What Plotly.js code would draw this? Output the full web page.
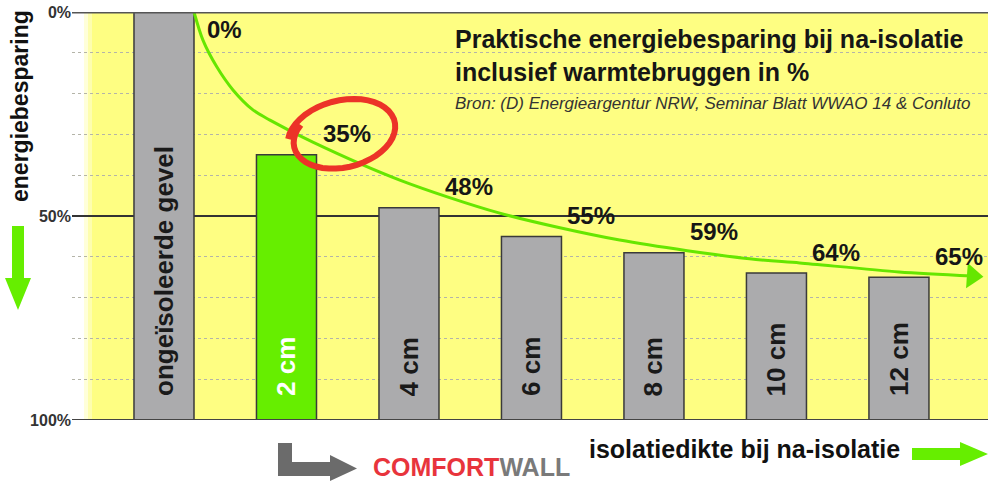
<!DOCTYPE html>
<html><head><meta charset="utf-8">
<script src="https://cdn.plot.ly/plotly-3.0.1.min.js"></script>
<style>html,body{margin:0;padding:0;background:#fff}#chart{width:988px;height:481px}</style>
</head><body><div id="chart"></div>
<script>
// ---- data ----
const categories = ['ongeïsoleerde gevel', '2 cm', '4 cm', '6 cm', '8 cm', '10 cm', '12 cm'];
const savings = [0, 35, 48, 55, 59, 64, 65];
const barColors = ['#ababad', '#66ee00', '#ababad', '#ababad', '#ababad', '#ababad', '#ababad'];
const barTextColors = ['#1a1a1a', '#ffffff', '#1a1a1a', '#1a1a1a', '#1a1a1a', '#1a1a1a', '#1a1a1a'];
const curveX = [0.245, 0.318, 0.432, 0.563, 0.726, 0.865, 1.215, 1.925, 2.741, 3.72, 4.78, 5.19, 6.0, 6.6];
const curveY = [0, 6.9, 13.5, 19.1, 24.0, 26.5, 31.9, 41.2, 49.3, 55.9, 60.5, 61.5, 63.7, 64.7];
const gridVals = [10, 20, 30, 40, 60, 70, 80, 90];
const yTicks = [0, 50, 100];
const yTickText = ['0%', '50%', '100%'];
const titleLines = ['Praktische energiebesparing bij na-isolatie', 'inclusief warmtebruggen in %'];
const sourceText = 'Bron: (D) Energieargentur NRW, Seminar Blatt WWAO 14 & Conluto';
const yTitle = 'energiebesparing';
const xTitle = 'isolatiedikte bij na-isolatie';

// ---- layout helpers ----
const W = 988, H = 481, ML = 72, MR = 0, MT = 12, MB = 61;
const PW = W - ML - MR, PH = H - MT - MB;
const px2p = px => (px - ML) / PW;
const py2p = py => (H - MB - py) / PH;
const polyPath = pts => 'M ' + pts.map(p => px2p(p[0]).toFixed(5) + ',' + py2p(p[1]).toFixed(5)).join(' L ') + ' Z';
const FONT = 'Liberation Sans, Arial, Helvetica, sans-serif';
const idx = categories.map((c, i) => i);

const traces = [
  {
    type: 'bar', x: idx, y: savings.map(v => 100 - v), base: savings,
    width: 0.49, marker: {color: barColors, line: {color: '#3a3a3a', width: 1.5}},
    hoverinfo: 'skip', showlegend: false
  },
  {
    type: 'scatter', mode: 'lines', x: curveX, y: curveY,
    line: {color: '#66e600', width: 3, shape: 'spline', smoothing: 0.8},
    hoverinfo: 'skip', showlegend: false, cliponaxis: false
  },
  {
    type: 'scatter', mode: 'markers', x: [curveX[curveX.length - 1]], y: [curveY[curveY.length - 1]],
    marker: {symbol: 'triangle-right', size: 22, color: '#66e600', angle: 4, line: {width: 0}},
    hoverinfo: 'skip', showlegend: false, cliponaxis: false
  },
  // invisible trace on the label axis so it is drawn
  {
    type: 'scatter', mode: 'markers', x: [0], y: [0], yaxis: 'y2', marker: {opacity: 0}, hoverinfo: 'skip', showlegend: false
  }
];

// red hand-drawn ellipse (spiral slightly) around the 2 cm label
function ellipsePath() {
  const a = 54, b = 34, rot = 14 * Math.PI / 180;
  const pts = [];
  const t0 = 165, t1 = 165 - 385;
  for (let t = t0; t >= t1; t -= 8) {
    const f = (t0 - t) / (t0 - t1);
    const s = 1.04 - 0.12 * f;
    const r = t * Math.PI / 180;
    const ex = a * s * Math.cos(r), ey = b * s * Math.sin(r);
    const x = ex * Math.cos(rot) - ey * Math.sin(rot);
    const y = ex * Math.sin(rot) + ey * Math.cos(rot);
    pts.push(x.toFixed(1) + ',' + y.toFixed(1));
  }
  return 'M ' + pts.join(' L ');
}

const shapes = [
  // yellow background with soft left edge
  {type: 'rect', xref: 'paper', yref: 'y', x0: px2p(84), x1: px2p(88), y0: 0, y1: 100, fillcolor: 'rgba(254,254,130,0.3)', line: {width: 0}, layer: 'below'},
  {type: 'rect', xref: 'paper', yref: 'y', x0: px2p(88), x1: px2p(92), y0: 0, y1: 100, fillcolor: 'rgba(254,254,130,0.65)', line: {width: 0}, layer: 'below'},
  {type: 'rect', xref: 'paper', yref: 'y', x0: px2p(92), x1: 1, y0: 0, y1: 100, fillcolor: '#fefe82', line: {width: 0}, layer: 'below'},
  // solid reference lines
  {type: 'line', xref: 'paper', yref: 'y', x0: 0, x1: 1, y0: 50, y1: 50, line: {color: '#333', width: 2}, layer: 'below'},
  {type: 'line', xref: 'paper', yref: 'y', x0: 0, x1: 1, y0: 0, y1: 0, line: {color: '#555', width: 3}, layer: 'above'},
  {type: 'line', xref: 'paper', yref: 'y', x0: 0, x1: 1, y0: 100, y1: 100, line: {color: '#444', width: 2}, layer: 'above'},
  // red ellipse
  {type: 'path', xref: 'x', yref: 'y', xsizemode: 'pixel', ysizemode: 'pixel', xanchor: 1.461, yanchor: 30.1,
   path: ellipsePath(), line: {color: '#ec3328', width: 6}, layer: 'above'},
  // green arrow down (left)
  {type: 'path', xref: 'paper', yref: 'paper', path: polyPath([[12,226],[24,226],[24,278],[31,278],[18,310],[5,278],[12,278]]), fillcolor: '#66ee00', line: {width: 0}},
  // green arrow right (bottom)
  {type: 'path', xref: 'paper', yref: 'paper', path: polyPath([[912,448],[960,448],[960,442],[988,454],[960,466],[960,460],[912,460]]), fillcolor: '#66ee00', line: {width: 0}},
  // grey L arrow (logo)
  {type: 'path', xref: 'paper', yref: 'paper', path: polyPath([[278,443],[292,443],[292,462],[330,462],[330,455],[357,468.5],[330,481],[330,476],[278,476]]), fillcolor: '#6b6b6b', line: {width: 0}}
];

const annotations = [];
// value labels
savings.forEach((v, i) => {
  annotations.push({
    x: i + 0.49, y: v, xref: 'x', yref: 'y', xanchor: 'center', yanchor: 'middle', text: '<b>' + v + '%</b>', showarrow: false,
    yshift: i === 0 ? -17 : 21, font: {family: FONT, size: 24, color: '#161616'}
  });
});
// bar texts
categories.forEach((c, i) => {
  annotations.push({
    x: i, y: 94.6, xref: 'x', yref: 'y', xanchor: 'center', yanchor: 'bottom', text: '<b>' + c + '</b>', showarrow: false,
    textangle: -90, font: {family: FONT, size: 26, color: barTextColors[i]}
  });
});
annotations.push(
  {xref: 'paper', yref: 'paper', x: px2p(20), y: py2p(106), xanchor: 'center', yanchor: 'middle', text: '<b>' + yTitle + '</b>', textangle: -90, showarrow: false,
   font: {family: FONT, size: 23, color: '#111'}},
  {xref: 'paper', yref: 'paper', x: px2p(453), y: py2p(56), xanchor: 'left', yanchor: 'middle', align: 'left', text: titleLines.map(t => '<b>' + t + '</b>').join('<br>'), showarrow: false,
   font: {family: FONT, size: 25, color: '#161616'}},
  {xref: 'paper', yref: 'paper', x: px2p(453), y: py2p(104), xanchor: 'left', yanchor: 'middle', text: '<i>' + sourceText + '</i>', showarrow: false,
   font: {family: FONT, size: 17, color: '#333'}},
  {xref: 'paper', yref: 'paper', x: px2p(744), y: py2p(449), xanchor: 'center', yanchor: 'middle', text: '<b>' + xTitle + '</b>', showarrow: false,
   font: {family: FONT, size: 25, color: '#111'}},
  {xref: 'paper', yref: 'paper', x: px2p(371), y: py2p(467), xanchor: 'left', yanchor: 'middle', showarrow: false,
   text: '<b><span style="color:#e8343c">COMFORT</span><span style="color:#7a7a7a">WALL</span></b>',
   font: {family: FONT, size: 25, color: '#e8343c'}}
);

const layout = {
  width: W, height: H,
  margin: {l: ML, r: MR, t: MT, b: MB, pad: 0},
  paper_bgcolor: '#ffffff', plot_bgcolor: 'rgba(0,0,0,0)',
  showlegend: false,
  xaxis: {range: [-0.751, 6.727], showticklabels: false, showgrid: false, zeroline: false, showline: false, ticks: '', fixedrange: true},
  yaxis: {range: [100, 0], tickvals: gridVals, showticklabels: false, showgrid: true, gridcolor: '#b4b4a8', griddash: 'dot', gridwidth: 1,
          zeroline: false, showline: false, ticks: '', fixedrange: true},
  yaxis2: {range: [100, 0], overlaying: 'y', side: 'left', tickvals: yTicks, ticktext: yTickText.map(t => '<b>' + t + '</b>'), showgrid: false,
           zeroline: false, showline: false, ticks: '', tickfont: {family: FONT, size: 16, color: '#333'}, fixedrange: true},
  shapes: shapes,
  annotations: annotations
};

Plotly.newPlot('chart', traces, layout, {displayModeBar: false, staticPlot: true});
</script>
</body></html>
